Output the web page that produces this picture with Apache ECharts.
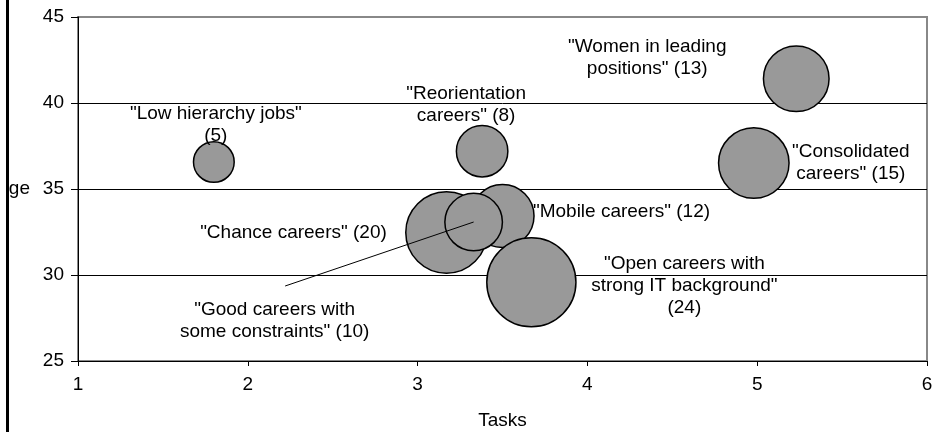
<!DOCTYPE html>
<html>
<head>
<meta charset="utf-8">
<script src="https://cdn.jsdelivr.net/npm/echarts@6/dist/echarts.min.js"></script>
<style>
  html, body { margin: 0; padding: 0; background: #fff; }
  #chart { width: 935px; height: 432px; }
</style>
</head>
<body>
<div id="chart"></div>
<script>
// career types, label text as shown on the chart
const labels = [
  '"Low hierarchy jobs"\n(5)',
  '"Reorientation\ncareers" (8)',
  '"Women in leading\npositions" (13)',
  '"Consolidated\ncareers" (15)',
  '"Chance careers" (20)',
  '"Mobile careers" (12)',
  '"Good careers with\nsome constraints" (10)',
  '"Open careers with\nstrong IT background"\n(24)'
];
const tasks = [1.80, 3.38, 5.23, 4.98, 3.17, 3.50, 3.33, 3.67];
const ages = [36.57, 37.2, 41.41, 36.51, 32.47, 33.43, 33.08, 29.58];
const counts = [5, 8, 13, 15, 20, 12, 10, 24];

// where each label sits relative to its bubble
const labelOffsets = [
  [2, -37], [-16, -46], [-149, -21], [97, 0],
  [-153, 0], [119, -4], [-199, 99], [153, 4]
];

const font = "Liberation Sans";
const fs = 19;

let myChart = echarts.init(document.getElementById("chart"));
const data = tasks.map((t, i) => ({
  name: labels[i],
  value: [t, ages[i], counts[i]],
  label: { offset: labelOffsets[i] }
}));

const option = {
  animation: false,
  textStyle: { fontFamily: font },
  grid: {
    left: 78, right: 8, top: 17, bottom: 71,
    outerBoundsMode: "none",
    containLabel: false,
    show: true,
    borderColor: "#888",
    borderWidth: 2
  },
  xAxis: {
    type: "value",
    min: 1, max: 6, interval: 1,
    name: "Tasks",
    nameLocation: "middle",
    nameGap: 50,
    nameTextStyle: { color: "#000", fontSize: fs, fontFamily: font },
    axisLine: { show: true, lineStyle: { color: "#000", width: 1 } },
    axisTick: { show: true, length: 5, lineStyle: { color: "#000" } },
    axisLabel: { color: "#000", fontSize: fs, margin: 14, fontFamily: font },
    splitLine: { show: false }
  },
  yAxis: {
    type: "value",
    min: 25, max: 45, interval: 5,
    name: "Age",
    nameLocation: "middle",
    nameRotate: 0,
    nameGap: 48,
    nameTextStyle: { color: "#000", fontSize: fs, fontFamily: font },
    axisLine: { show: true, lineStyle: { color: "#000", width: 1 } },
    axisTick: { show: true, length: 7, lineStyle: { color: "#000" } },
    axisLabel: { color: "#000", fontSize: fs, margin: 14, fontFamily: font },
    splitLine: {
      show: true,
      lineStyle: { color: ["#000", "#000", "#000", "#000", "#888"], width: 1 }
    }
  },
  series: [
    {
      type: "scatter",
      data: data,
      symbolSize: v => 18.2 * Math.sqrt(v[2]),
      itemStyle: { color: "#999999", borderColor: "#000", borderWidth: 1.5, opacity: 1 },
      label: {
        show: true,
        position: "inside",
        formatter: p => p.name,
        color: "#000",
        fontSize: fs,
        lineHeight: 22,
        align: "center",
        fontFamily: font
      },
      emphasis: { disabled: true },
      markLine: {
        silent: true,
        symbol: "none",
        label: { show: false },
        lineStyle: { color: "#000", width: 1, type: "solid" },
        data: [[{ coord: [tasks[6], ages[6]] }, { coord: [2.22, 29.36] }]]
      }
    }
  ],
  graphic: [
    { type: "rect", z: 100, shape: { x: 0, y: 0, width: 6, height: 432 }, style: { fill: "#fff" } },
    { type: "rect", z: 100, shape: { x: 6, y: 0, width: 3, height: 432 }, style: { fill: "#000" } }
  ]
};
myChart.setOption(option);
</script>
</body>
</html>
